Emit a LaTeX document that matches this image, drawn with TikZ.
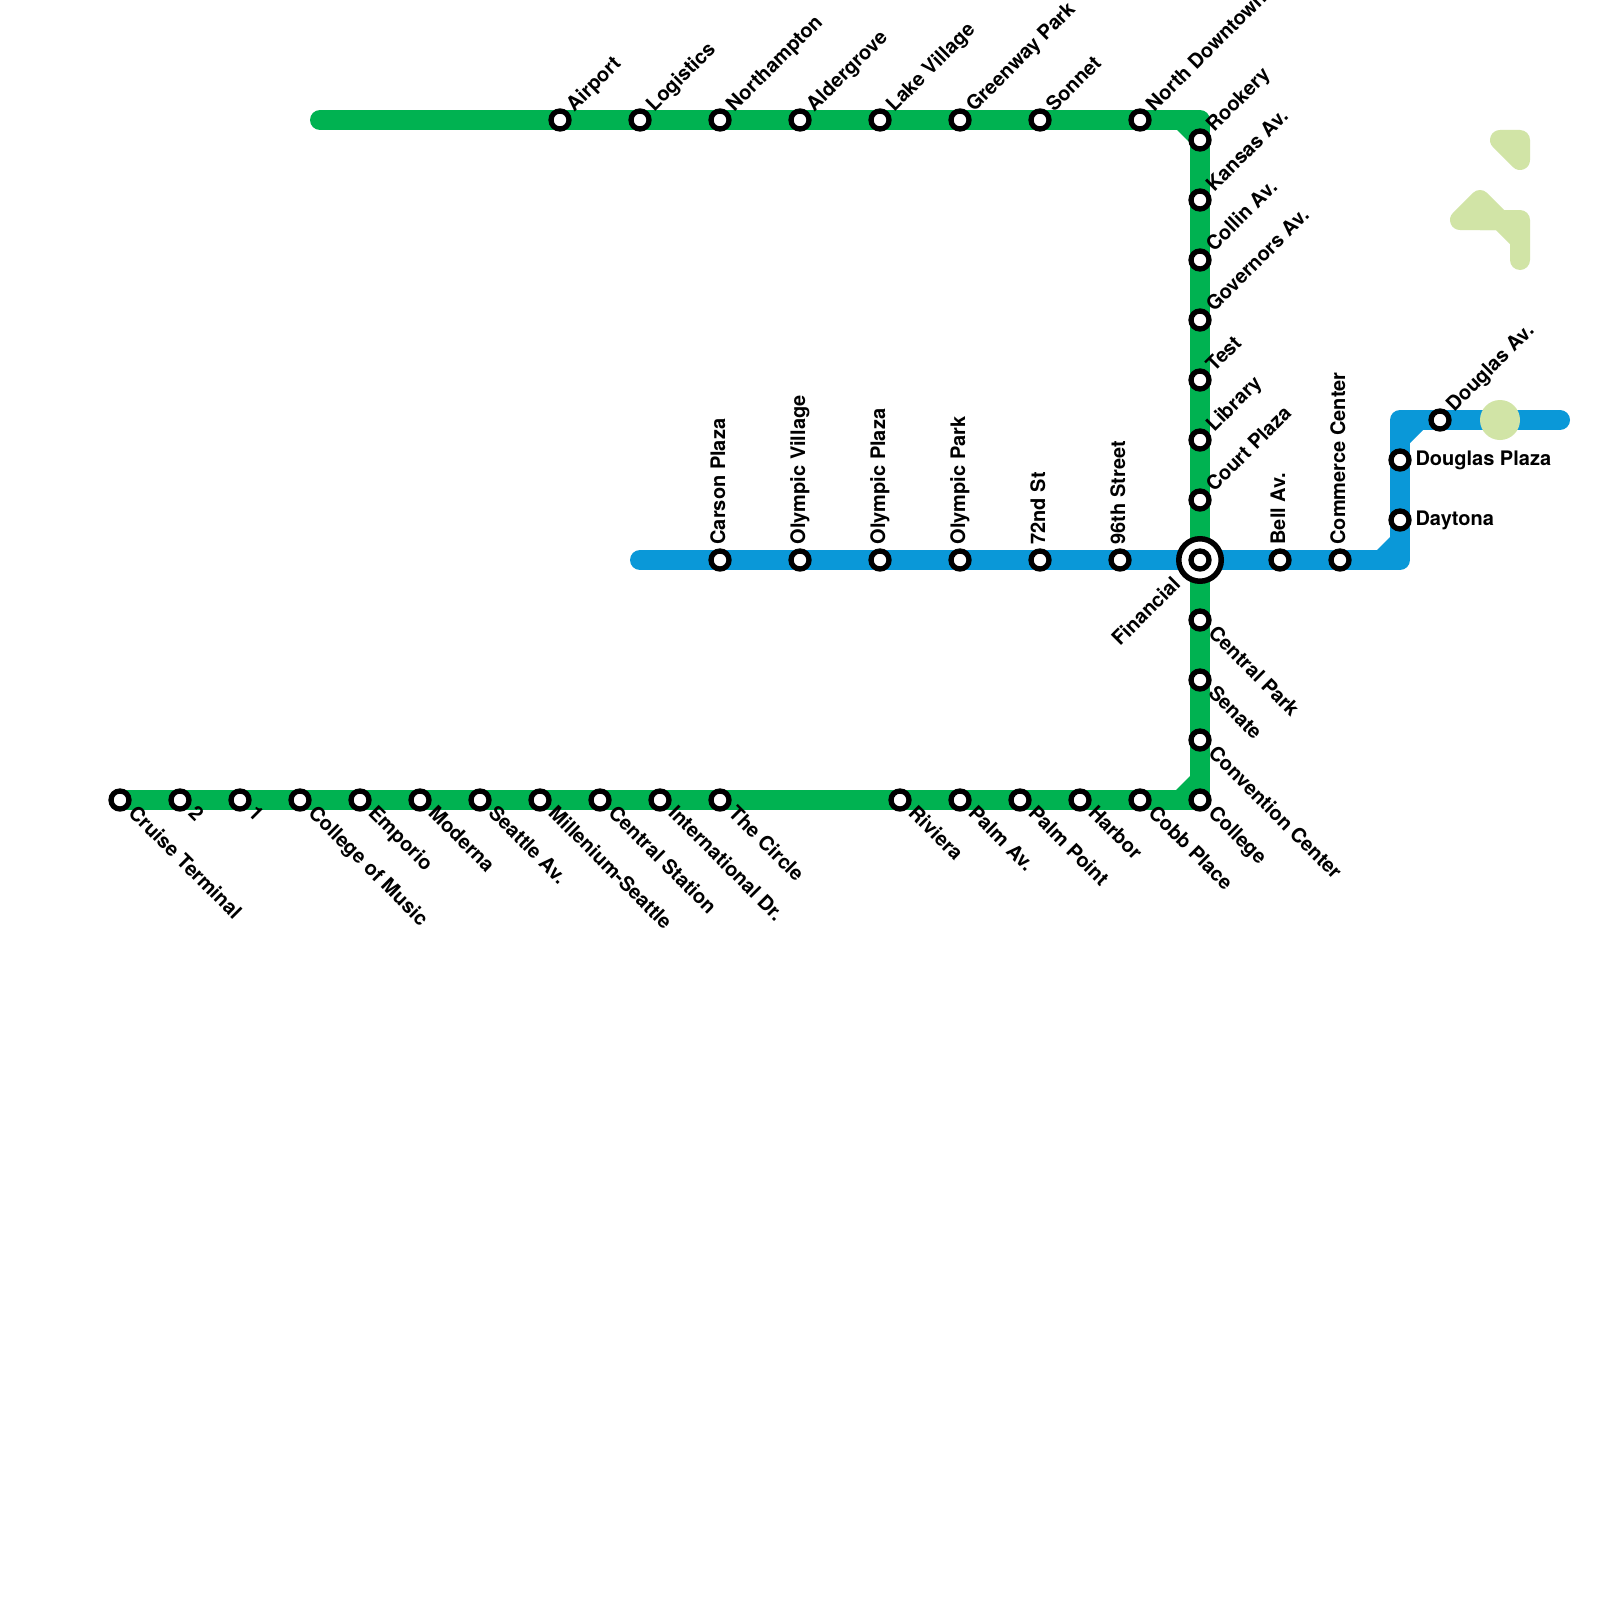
\documentclass[tikz,border=0pt]{standalone}
\usepackage{fontspec}
\setmainfont{TeX Gyre Heros}
\pgfdeclarelayer{lines}
\pgfsetlayers{lines,main}
\definecolor{lineG}{HTML}{00B251}
\definecolor{lineB}{HTML}{0A98D8}
\definecolor{park}{HTML}{D1E4A6}
\tikzset{
  x=1pt,y=-1pt,
  stn/.style={circle,draw=black,fill=white,line width=5.3pt,minimum size=18pt,inner sep=0pt,outer sep=0pt},
  hub/.style={circle,draw=black,fill=white,line width=5.5pt,minimum size=42.5pt,inner sep=0pt,outer sep=0pt},
  lab/.style={inner sep=0pt,outer sep=0pt,font=\fontsize{20}{22}\selectfont\bfseries,text=black},
  route/.style={line width=20pt,line cap=round,line join=round},
  parkshape/.style={draw=park,fill=park,line width=20pt,line cap=round,line join=round},
}
\begin{document}
\begin{tikzpicture}
\useasboundingbox (0,0) rectangle (1600,1600);
% stations with down-right labels
\foreach \n/\x/\y/\t in {
  cruise/120/800/Cruise Terminal, two/180/800/2, one/240/800/1, musiccollege/300/800/College of Music,
  emporio/360/800/Emporio, moderna/420/800/Moderna, seattle/480/800/Seattle Av.,
  millenium/540/800/Millenium-Seattle, centralst/600/800/Central Station, intl/660/800/International Dr.,
  circle/720/800/The Circle, riviera/900/800/Riviera, palmav/960/800/Palm Av., palmpt/1020/800/Palm Point,
  harbor/1080/800/Harbor, cobb/1140/800/Cobb Place, college/1200/800/College,
  centralpk/1200/620/Central Park, senate/1200/680/Senate, convention/1200/740/Convention Center}{
  \node[stn] (\n) at (\x,\y) {};
  \node[lab,rotate=-45,anchor=base west] (\n-l) at ([xshift=7.4pt,yshift=-14.4pt]\n.center) {\t};
}
% stations with up-right labels
\foreach \n/\x/\y/\t in {
  airport/560/120/Airport, logistics/640/120/Logistics, northampton/720/120/Northampton,
  aldergrove/800/120/Aldergrove, lakevillage/880/120/Lake Village, greenway/960/120/Greenway Park,
  sonnet/1040/120/Sonnet, northdt/1140/120/North Downtown,
  rookery/1200/140/Rookery, kansas/1200/200/Kansas Av., collin/1200/260/Collin Av.,
  governors/1200/320/Governors Av., test/1200/380/Test, library/1200/440/Library, court/1200/500/Court Plaza,
  douglasav/1440/420/Douglas Av.}{
  \node[stn] (\n) at (\x,\y) {};
  \node[lab,rotate=45,anchor=base west] (\n-l) at ([xshift=14.4pt,yshift=7.4pt]\n.center) {\t};
}
% stations with vertical labels
\foreach \n/\x/\y/\t in {
  carson/720/560/Carson Plaza, olyvillage/800/560/Olympic Village, olyplaza/880/560/Olympic Plaza,
  olypark/960/560/Olympic Park, st72/1040/560/72nd St, st96/1120/560/96th Street,
  bell/1280/560/Bell Av., commerce/1340/560/Commerce Center}{
  \node[stn] (\n) at (\x,\y) {};
  \node[lab,rotate=90,anchor=base west] (\n-l) at ([xshift=5pt,yshift=15.5pt]\n.center) {\t};
}
% stations with horizontal labels
\foreach \n/\x/\y/\t in {douglasplaza/1400/460/Douglas Plaza, daytona/1400/520/Daytona}{
  \node[stn] (\n) at (\x,\y) {};
  \node[lab,anchor=base west] (\n-l) at ([xshift=15.5pt,yshift=-5pt]\n.center) {\t};
}
% interchange
\node[hub] (financialhub) at (1200,560) {};
\node[stn] (financial) at (1200,560) {};
\node[lab,rotate=45,anchor=base east] (financial-l) at ([xshift=-18.5pt,yshift=-25.5pt]financial.center) {Financial};
% way points
\coordinate (gstart) at (320,120);
\coordinate (gcorner) at (1200,120);
\coordinate (bstart) at (640,560);
\coordinate (bcornerS) at (1400,560);
\coordinate (bcornerN) at (1400,420);
\coordinate (bend) at (1560,420);
\node[circle,fill=park,minimum size=40pt,inner sep=0pt,outer sep=0pt] (parkdot) at (1500,420) {};
\begin{pgfonlayer}{lines}
  \fill[white] (0,0) rectangle (1600,1600);
  \draw[route,lineG] (gstart) -- (gcorner) -- (college.center) -- (cruise.center);
  \fill[lineG] (1176,129) -- (1191,129) -- (1191,144) -- cycle;
  \fill[lineG] (1175,791) -- (1191,791) -- (1191,775) -- cycle;
  \draw[route,lineB] (bstart) -- (bcornerS) -- (bcornerN) -- (bend);
  \fill[lineB] (1376,551) -- (1391,551) -- (1391,536) -- cycle;
  \fill[lineB] (1409,444) -- (1409,429) -- (1424,429) -- cycle;
  \draw[parkshape] (1500,140) -- (1520,140) -- (1520,160) -- cycle;
  \draw[parkshape] (1460,220) -- (1480,200) -- (1500,220) -- cycle;
  \draw[parkshape] (1480,220) -- (1520,220) -- (1520,260) -- (1520,240) -- (1500,220) -- cycle;
\end{pgfonlayer}
\end{tikzpicture}
\end{document}
